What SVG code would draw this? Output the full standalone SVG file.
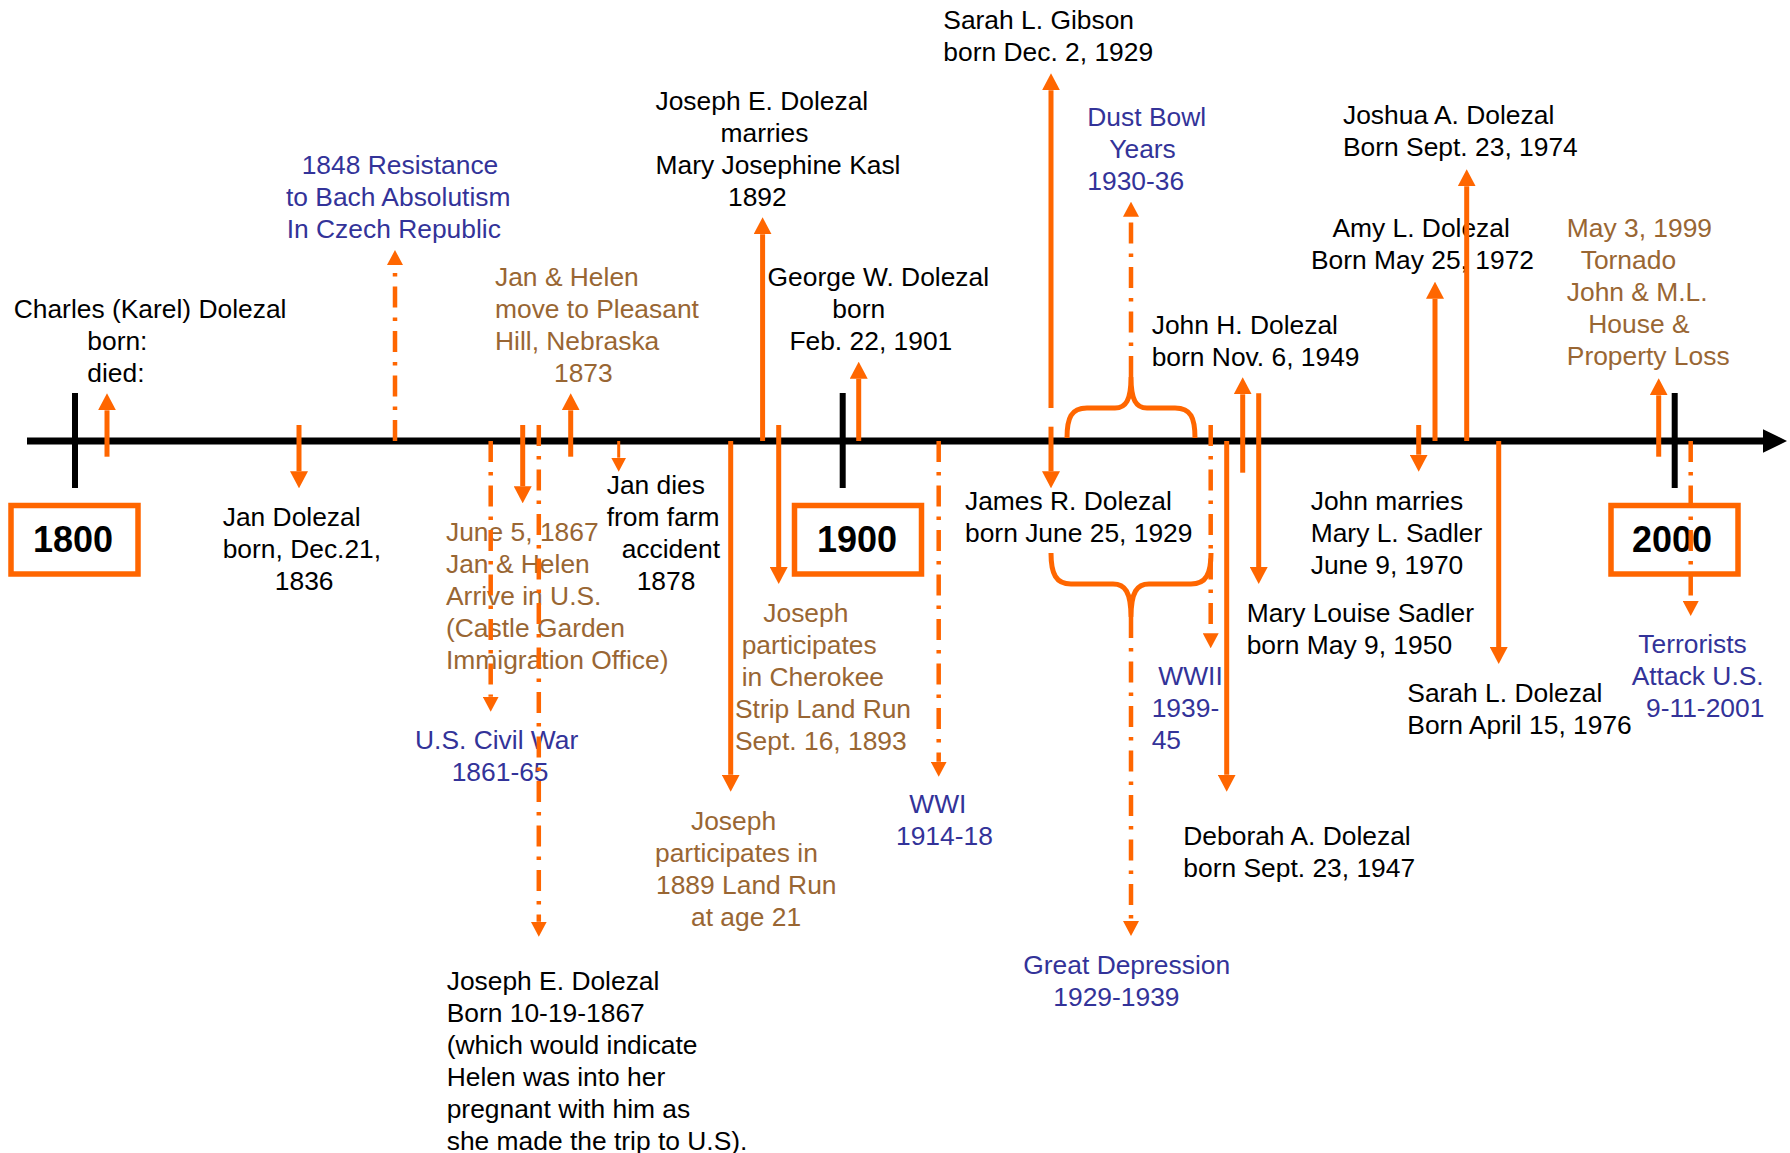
<svg xmlns="http://www.w3.org/2000/svg" width="1790" height="1153" viewBox="0 0 1790 1153">
<style>
text{font-family:"Liberation Sans",Arial,sans-serif;font-size:26.4px}
.k{fill:#000}
.bl{fill:#333399}
.br{fill:#996633}
.yr{font-weight:bold;font-size:36px;text-anchor:middle;fill:#000}
.sol{stroke:#FF6600;stroke-width:5;fill:none}
.thin{stroke:#FF6600;stroke-width:3;fill:none}
.dd{stroke:#FF6600;stroke-width:4.5;stroke-dasharray:21 10 3.5 10;fill:none}
.brace{stroke:#FF6600;stroke-width:5;fill:none}
.tick{stroke:#000;stroke-width:6}
.box{fill:#fff;stroke:#FF6600;stroke-width:5.5}
</style>
<defs>
<marker id="ah" markerUnits="userSpaceOnUse" markerWidth="17" markerHeight="18" refX="0" refY="9" orient="auto"><path d="M0,0 L17,9 L0,18 z" fill="#FF6600"/></marker>
<marker id="ahs" markerUnits="userSpaceOnUse" markerWidth="14" markerHeight="15" refX="0" refY="7.5" orient="auto"><path d="M0,0 L14,7.5 L0,15 z" fill="#FF6600"/></marker>
<marker id="ahd" markerUnits="userSpaceOnUse" markerWidth="15" markerHeight="16" refX="0" refY="8" orient="auto"><path d="M0,0 L15,8 L0,16 z" fill="#FF6600"/></marker>
</defs>
<rect width="1790" height="1153" fill="#fff"/>
<g id="timeline">
<line x1="27" y1="441" x2="1764" y2="441" stroke="#000" stroke-width="7"/>
<polygon points="1763,429.3 1787,441 1763,452.7" fill="#000"/>
<line class="tick" x1="75" y1="393" x2="75" y2="488"/>
<line class="tick" x1="842.7" y1="393" x2="842.7" y2="488"/>
<line class="tick" x1="1674.7" y1="393" x2="1674.7" y2="488"/>
</g>
<g id="y1800"><rect class="box" x="11" y="505.5" width="127" height="68.5"/><text class="yr" x="73" y="552">1800</text></g>
<g id="y1900"><rect class="box" x="794.5" y="505.5" width="127" height="68.5"/><text class="yr" x="857" y="552">1900</text></g>
<g id="y2000"><rect class="box" x="1611" y="505.5" width="127" height="68.5"/><text class="yr" x="1672" y="552">2000</text></g>

<g id="charles" class="k"><text x="13.7" y="318">Charles (Karel) Dolezal</text><text x="87.3" y="350">born:</text><text x="87.3" y="382">died:</text></g>
<g id="jan-born" class="k"><text x="222.7" y="526">Jan Dolezal</text><text x="222.7" y="558">born, Dec.21,</text><text x="274.8" y="590">1836</text></g>
<g id="resistance-1848" class="bl"><text x="301.7" y="174">1848 Resistance</text><text x="286" y="206">to Bach Absolutism</text><text x="286.7" y="238">In Czech Republic</text></g>
<g id="move-1873" class="br"><text x="495" y="286">Jan &amp; Helen</text><text x="495" y="318">move to Pleasant</text><text x="495" y="350">Hill, Nebraska</text><text x="554" y="382">1873</text></g>
<g id="arrive-1867" class="br"><text x="446" y="541">June 5, 1867</text><text x="446" y="573">Jan &amp; Helen</text><text x="446" y="605">Arrive in U.S.</text><text x="446" y="637">(Castle Garden</text><text x="446" y="669">Immigration Office)</text></g>
<g id="civil-war" class="bl"><text x="415" y="749">U.S. Civil War</text><text x="451.7" y="781">1861-65</text></g>
<g id="joseph-born" class="k"><text x="446.7" y="990">Joseph E. Dolezal</text><text x="446.7" y="1022">Born 10-19-1867</text><text x="446.7" y="1054">(which would indicate</text><text x="446.7" y="1086">Helen was into her</text><text x="446.7" y="1118">pregnant with him as</text><text x="446.7" y="1150">she made the trip to U.S).</text></g>
<g id="jan-dies" class="k"><text x="606.7" y="494">Jan dies</text><text x="606.7" y="526">from farm</text><text x="621.7" y="558">accident</text><text x="636.7" y="590">1878</text></g>
<g id="marries-1892" class="k"><text x="655.5" y="110">Joseph E. Dolezal</text><text x="720.5" y="142">marries</text><text x="655.5" y="174">Mary Josephine Kasl</text><text x="728" y="206">1892</text></g>
<g id="george" class="k"><text x="767.6" y="286">George W. Dolezal</text><text x="832.3" y="318">born</text><text x="789.4" y="350">Feb. 22, 1901</text></g>
<g id="cherokee" class="br"><text x="763.3" y="622">Joseph</text><text x="741.7" y="654">participates</text><text x="741.7" y="686">in Cherokee</text><text x="735" y="718">Strip Land Run</text><text x="735" y="750">Sept. 16, 1893</text></g>
<g id="landrun-1889" class="br"><text x="691" y="830">Joseph</text><text x="655" y="862">participates in</text><text x="656" y="894">1889 Land Run</text><text x="691" y="926">at age 21</text></g>
<g id="wwi" class="bl"><text x="909.3" y="813">WWI</text><text x="896" y="845">1914-18</text></g>
<g id="sarah-gibson" class="k"><text x="943.3" y="29">Sarah L. Gibson</text><text x="943.3" y="61">born Dec. 2, 1929</text></g>
<g id="dust-bowl" class="bl"><text x="1087.3" y="126">Dust Bowl</text><text x="1109.3" y="158">Years</text><text x="1087.3" y="190">1930-36</text></g>
<g id="james" class="k"><text x="965" y="510">James R. Dolezal</text><text x="965" y="542">born June 25, 1929</text></g>
<g id="great-depression" class="bl"><text x="1023.3" y="974">Great Depression</text><text x="1053.3" y="1006">1929-1939</text></g>
<g id="john-h" class="k"><text x="1151.7" y="334">John H. Dolezal</text><text x="1151.7" y="366">born Nov. 6, 1949</text></g>
<g id="wwii" class="bl"><text x="1158.3" y="685">WWII</text><text x="1151.7" y="717">1939-</text><text x="1151.7" y="749">45</text></g>
<g id="mary-louise" class="k"><text x="1246.7" y="622">Mary Louise Sadler</text><text x="1246.7" y="654">born May 9, 1950</text></g>
<g id="deborah" class="k"><text x="1183.3" y="845">Deborah A. Dolezal</text><text x="1183.3" y="877">born Sept. 23, 1947</text></g>
<g id="john-marries" class="k"><text x="1310.7" y="510">John marries</text><text x="1310.7" y="542">Mary L. Sadler</text><text x="1310.7" y="574">June 9, 1970</text></g>
<g id="sarah-dolezal" class="k"><text x="1407.3" y="702">Sarah L. Dolezal</text><text x="1407.3" y="734">Born April 15, 1976</text></g>
<g id="joshua" class="k"><text x="1343" y="124">Joshua A. Dolezal</text><text x="1343" y="156">Born Sept. 23, 1974</text></g>
<g id="amy" class="k"><text x="1332.4" y="237">Amy L. Dolezal</text><text x="1311" y="269">Born May 25, 1972</text></g>
<g id="tornado" class="br"><text x="1566.8" y="237">May 3, 1999</text><text x="1580.7" y="269">Tornado</text><text x="1566.8" y="301">John &amp; M.L.</text><text x="1588.3" y="333">House &amp;</text><text x="1566.8" y="365">Property Loss</text></g>
<g id="terrorists" class="bl"><text x="1638.3" y="653">Terrorists</text><text x="1631.7" y="685">Attack U.S.</text><text x="1646" y="717">9-11-2001</text></g>

<g id="connectors">
<line class="sol" x1="107" y1="456.7" x2="107" y2="410.3" marker-end="url(#ah)"/>
<line class="sol" x1="570.7" y1="456.7" x2="570.7" y2="410.3" marker-end="url(#ah)"/>
<line class="sol" x1="762.6" y1="441" x2="762.6" y2="234.3" marker-end="url(#ah)"/>
<line class="sol" x1="858.7" y1="441" x2="858.7" y2="378.7" marker-end="url(#ah)"/>
<line class="sol" x1="1051" y1="408" x2="1051" y2="90.3" marker-end="url(#ah)"/>
<line class="sol" x1="1242.7" y1="472.7" x2="1242.7" y2="394.3" marker-end="url(#ah)"/>
<line class="sol" x1="1435" y1="441" x2="1435" y2="298.7" marker-end="url(#ah)"/>
<line class="sol" x1="1466.7" y1="441" x2="1466.7" y2="186.3" marker-end="url(#ah)"/>
<line class="sol" x1="1658.7" y1="456.7" x2="1658.7" y2="395.3" marker-end="url(#ah)"/>
<line class="sol" x1="299" y1="425" x2="299" y2="471.3" marker-end="url(#ah)"/>
<line class="sol" x1="522.7" y1="425" x2="522.7" y2="486.3" marker-end="url(#ah)"/>
<line class="sol" x1="730.7" y1="441" x2="730.7" y2="774.7" marker-end="url(#ah)"/>
<line class="sol" x1="778.7" y1="425" x2="778.7" y2="567" marker-end="url(#ah)"/>
<line class="sol" x1="1051" y1="426.7" x2="1051" y2="471.3" marker-end="url(#ah)"/>
<line class="sol" x1="1226.7" y1="441" x2="1226.7" y2="774.7" marker-end="url(#ah)"/>
<line class="sol" x1="1258.7" y1="393.3" x2="1258.7" y2="567" marker-end="url(#ah)"/>
<line class="sol" x1="1418.7" y1="425" x2="1418.7" y2="454.7" marker-end="url(#ah)"/>
<line class="sol" x1="1498.7" y1="441" x2="1498.7" y2="647" marker-end="url(#ah)"/>
<line class="thin" x1="618.7" y1="441" x2="618.7" y2="457.7" marker-end="url(#ahs)"/>
<line class="dd" x1="395" y1="441" x2="395" y2="265" marker-end="url(#ahd)"/>
<line class="dd" x1="490.7" y1="441" x2="490.7" y2="696.7" marker-end="url(#ahd)"/>
<line class="dd" x1="538.8" y1="425" x2="538.8" y2="921.7" marker-end="url(#ahd)"/>
<line class="dd" x1="938.7" y1="441" x2="938.7" y2="761.7" marker-end="url(#ahd)"/>
<line class="dd" x1="1131" y1="377" x2="1131" y2="216.7" marker-end="url(#ahd)"/>
<line class="dd" x1="1131" y1="617" x2="1131" y2="921" marker-end="url(#ahd)"/>
<line class="dd" x1="1210.7" y1="425" x2="1210.7" y2="633.3" marker-end="url(#ahd)"/>
<line class="dd" x1="1690.7" y1="441" x2="1690.7" y2="601" marker-end="url(#ahd)"/>
<path class="brace" d="M1067,438 C1067,418 1071,408 1087,408 L1115,408 C1126,408 1131,400 1131,377 C1131,400 1136,408 1147,408 L1175,408 C1191,408 1195,418 1195,438"/>
<path class="brace" d="M1051,553 C1051,574 1056,584 1071,584 L1113,584 C1125,584 1131,592 1131,617 C1131,592 1137,584 1149,584 L1191,584 C1206,584 1211,574 1211,553"/>
</g>
</svg>
